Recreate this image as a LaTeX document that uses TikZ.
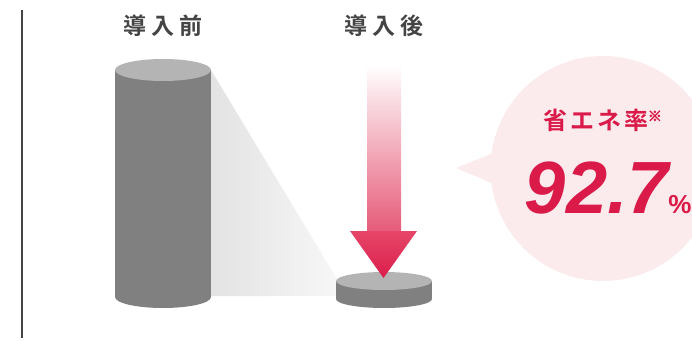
\documentclass[tikz,border=0pt]{standalone}
\usepackage{fontspec}
\newfontfamily\cjk{Noto Sans CJK JP}[BoldFont={Noto Sans CJK JP Bold}]
\newfontfamily\cjkheavy{Noto Sans CJK JP Bold}[FakeBold=4]
\newfontfamily\numfont{Liberation Sans}
\definecolor{crim}{RGB}{218,26,72}
\definecolor{bubblec}{RGB}{252,235,237}
\definecolor{sidec}{RGB}{128,128,128}
\definecolor{topc}{RGB}{180,180,180}
\definecolor{titlec}{RGB}{68,68,68}
\definecolor{shaftc}{RGB}{230,90,120}
\definecolor{headtop}{RGB}{230,70,105}
\definecolor{headbot}{RGB}{218,30,75}
\tikzset{
  sidefill/.style={fill=sidec},
  topfill/.style={fill=topc},
  title/.style={font=\cjk\bfseries\fontsize{23}{23}\selectfont, text=titlec, inner sep=0pt},
}
\begin{document}
\begin{tikzpicture}[x=1pt,y=-1pt]
\useasboundingbox (0,0) rectangle (692,340);
% divider
\draw[line width=1.6pt, color=titlec] (22,10) -- (22,338);
% bubble
\fill[bubblec] (603,168.5) circle (112.5pt);
\fill[bubblec] (456,168) -- (496,152) -- (496,185) -- cycle;
% shadow
\shade[left color=black!11, right color=black!3] (211,70) -- (340,284) -- (340,296) -- (211,296) -- cycle;
% tall cylinder
\fill[sidefill] (163,297) ellipse [x radius=48pt, y radius=11pt];
\fill[sidefill] (115,70) rectangle (211,297);
\fill[topfill] (163,70) ellipse [x radius=48pt, y radius=11pt];
% small cylinder
\fill[sidefill] (384,299) ellipse [x radius=48pt, y radius=9pt];
\fill[sidefill] (336,281) rectangle (432,299);
\fill[topfill] (384,281) ellipse [x radius=48pt, y radius=9pt];
% arrow
\shade[top color=white, bottom color=shaftc] (367,65) rectangle (401,232);
\shade[top color=headtop, bottom color=headbot] (350,231) -- (417,231) -- (383.5,278) -- cycle;
% titles
\node[title] (before) at (163,26) {導\hspace{5pt}入\hspace{5pt}前};
\node[title] (after) at (384,26) {導\hspace{5pt}入\hspace{5pt}後};
% bubble text
\node[inner sep=0pt, text=crim, font=\cjk\bfseries\fontsize{24}{24}\selectfont] (label) at (596,120) {省\hspace{3pt}エ\hspace{3pt}ネ\hspace{3pt}率};
\node[inner sep=0pt, text=crim, font=\cjkheavy\fontsize{14}{14}\selectfont, anchor=west] (note) at ([xshift=-1pt,yshift=4pt]label.east) {※};
\node[inner sep=0pt, text=crim, font=\numfont\bfseries\itshape\fontsize{74}{74}\selectfont, anchor=base] (num) at (597,213) {92.7};
\node[inner sep=0pt, text=crim, font=\numfont\bfseries\fontsize{26}{26}\selectfont, anchor=base west] (pct) at ([xshift=-1pt]num.base east) {\%};
\end{tikzpicture}
\end{document}
